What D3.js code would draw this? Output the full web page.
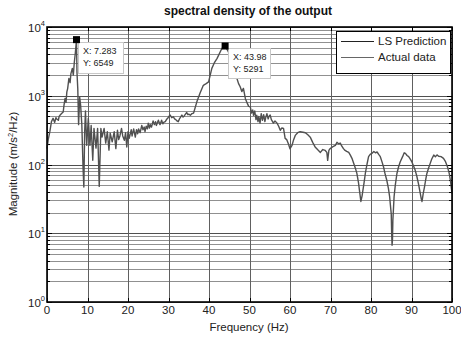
<!DOCTYPE html>
<html><head><meta charset="utf-8">
<script src="https://cdn.jsdelivr.net/npm/d3@7"></script>
<style>body{margin:0;background:#fff}svg{display:block}text{font-family:"Liberation Sans",Arial,sans-serif}</style>
</head><body>
<script>
const title = "spectral density of the output";
const xLabel = "Frequency (Hz)";
const xTicks = [0,10,20,30,40,50,60,70,80,90,100];
const yDecades = [0,1,2,3,4];
const seriesNames = ["LS Prediction","Actual data"];
const freq = [0,0.3,0.7,1.1,1.5,1.9,2.2,2.4,2.8,3.0,3.2,3.6,4.0,4.2,4.45,4.7,4.9,5.1,5.4,5.7,5.9,6.25,6.5,6.75,7.0,7.283,7.4,7.6,7.8,8.07,8.3,8.6,8.9,9.1,9.3,9.5,9.8,10.2,10.6,10.9,11.3,11.6,12.1,12.5,12.9,
13.3,13.6,14.1,14.5,14.9,15.3,15.6,16.1,16.6,17.0,17.4,17.7,18.0,18.4,18.7,19.1,19.4,19.7,20.0,20.3,20.5,20.8,21.0,21.4,21.8,22.1,22.4,22.6,23.0,23.4,23.7,24.0,24.2,24.5,24.8,25.0,25.3,25.5,25.8,26.2,26.5,26.8,27.0,27.3,27.5,27.9,28.3,28.6,28.8,29.2,29.5,29.8,30.1,30.4,30.8,31.2,31.5,31.8,32.1,32.4,32.7,32.9,33.3,33.6,33.8,34.1,34.5,34.8,35.0,35.4,35.8,36.2,
37.0,37.8,38.6,39.3,39.9,40.7,41.3,42.0,43.2,43.98,44.8,45.6,46.2,46.9,47.3,47.7,48.1,48.5,49.0,49.3,49.8,
50.2,50.5,50.8,51.0,51.3,51.6,51.8,52.1,52.3,52.6,52.9,53.2,53.5,53.8,54.0,54.3,54.6,54.8,55.1,55.4,55.7,55.9,56.3,56.8,57.2,57.6,58.0,58.4,58.8,59.2,59.6,60.0,60.5,60.9,61.3,61.9,62.5,63.2,63.8,64.4,65.0,65.6,66.2,66.8,67.5,68.1,68.7,69.1,69.3,69.6,69.9,70.5,71.2,71.6,72.0,72.4,72.8,73.2,73.6,74.0,74.5,74.9,75.3,75.7,76.1,76.5,76.9,77.2,77.5,77.8,78.0,78.3,78.6,79.0,79.4,79.8,80.2,80.7,81.1,81.5,81.9,82.3,82.7,83.1,83.5,83.9,84.3,84.6,84.9,85.0,85.1,85.2,85.3,85.4,85.7,86.0,86.4,86.8,87.2,87.8,88.2,88.5,88.9,89.3,89.7,90.1,90.5,90.9,91.3,91.7,92.1,92.4,92.6,92.9,93.2,93.5,93.8,94.2,94.6,95.0,95.5,95.9,96.3,96.7,97.3,97.9,98.4,98.9,99.3,99.6,100];
const magnitude = [170,230,300,420,470,410,480,460,440,500,520,550,580,730,910,800,1140,1270,1780,1550,2100,2500,2000,3100,4200,6549,2200,1270,380,950,730,380,90,47,300,600,190,470,190,370,115,335,173,335,48,
335,250,335,205,300,162,285,214,300,170,315,230,260,335,260,225,290,180,300,240,270,320,260,330,250,320,280,330,290,370,320,350,300,360,330,400,340,380,350,430,380,420,370,410,440,380,440,390,410,420,450,470,500,525,480,495,460,450,430,420,460,480,525,490,500,530,570,530,540,520,550,560,
815,1100,1420,1500,1590,2500,3000,3500,4900,5291,4350,2800,2300,1780,1500,1350,1150,1280,900,815,700,
690,560,620,520,600,450,520,420,500,400,550,440,530,420,480,550,460,500,525,450,420,400,430,400,360,315,340,335,240,230,200,170,190,230,265,290,300,295,290,270,250,210,180,165,150,165,160,150,115,160,170,180,190,210,200,205,185,170,160,155,150,137,123,105,90,75,55,40,29,35,42,55,74,100,130,140,145,155,148,152,140,130,110,92,72,59,45,34,22,19,10,6.7,8,15.5,34,50,74,92,109,130,148,145,135,130,120,109,95,83,68,53,40,32,29,38,47,60,74,88,103,120,137,130,138,132,130,123,110,92,75,59,38];
const tipX = [7.283, 43.98];
const tipY = [6549, 5291];
const tipLabelX = ["X: 7.283","X: 43.98"];
const tipLabelY = ["Y: 6549","Y: 5291"];

const W=461,H=341;
const L=47,R=452,T=27,B=302;
const svg=d3.select("body").append("svg").attr("width",W).attr("height",H);
const x=d3.scaleLinear().domain([0,100]).range([L,R]);
const y=d3.scaleLog().domain([1,10000]).range([B,T]);

// grid
const g=svg.append("g");
const minors=[];
yDecades.slice(0,-1).forEach(d=>{for(let k=2;k<=9;k++)minors.push(k*Math.pow(10,d));});
g.selectAll(".mn").data(minors).enter().append("line")
 .attr("x1",L).attr("x2",R).attr("y1",d=>Math.round(y(d))+0.5).attr("y2",d=>Math.round(y(d))+0.5)
 .attr("stroke","#909090").attr("stroke-width",1);
g.selectAll(".mj").data(yDecades.map(d=>Math.pow(10,d))).enter().append("line")
 .attr("x1",L).attr("x2",R).attr("y1",d=>Math.round(y(d))+0.5).attr("y2",d=>Math.round(y(d))+0.5)
 .attr("stroke","#505050").attr("stroke-width",1);
g.selectAll(".vx").data(xTicks).enter().append("line")
 .attr("x1",d=>Math.round(x(d))+0.5).attr("x2",d=>Math.round(x(d))+0.5).attr("y1",T).attr("y2",B)
 .attr("stroke","#606060").attr("stroke-width",1);

// ticks
const tk=svg.append("g").attr("stroke","#000").attr("stroke-width",1);
xTicks.forEach(t=>{
  tk.append("line").attr("x1",Math.round(x(t))+0.5).attr("x2",Math.round(x(t))+0.5).attr("y1",B).attr("y2",B-4);
  tk.append("line").attr("x1",Math.round(x(t))+0.5).attr("x2",Math.round(x(t))+0.5).attr("y1",T).attr("y2",T+4);
});
minors.concat(yDecades.map(d=>Math.pow(10,d))).forEach(v=>{
  const len = yDecades.some(d=>Math.pow(10,d)===v)?5:3;
  tk.append("line").attr("x1",L).attr("x2",L+len).attr("y1",Math.round(y(v))+0.5).attr("y2",Math.round(y(v))+0.5);
  tk.append("line").attr("x1",R).attr("x2",R-len).attr("y1",Math.round(y(v))+0.5).attr("y2",Math.round(y(v))+0.5);
});

// curve
const pts=freq.map((f,i)=>[f,magnitude[i]]);
svg.append("path").datum(pts)
 .attr("d",d3.line().x(d=>x(d[0])).y(d=>y(d[1])))
 .attr("fill","none").attr("stroke","#505050").attr("stroke-width",1.4).attr("stroke-linejoin","round");

// axes box
svg.append("rect").attr("x",L).attr("y",T).attr("width",R-L).attr("height",B-T)
 .attr("fill","none").attr("stroke","#000").attr("stroke-width",1.6);

// tick labels
svg.selectAll(".xl").data(xTicks).enter().append("text")
 .attr("x",d=>x(d)).attr("y",314).attr("text-anchor","middle").attr("font-size",11.5).attr("fill","#222").text(d=>d);
yDecades.forEach(d=>{
  const t=svg.append("text").attr("x",28).attr("y",y(Math.pow(10,d))+5).attr("font-size",11.5).attr("fill","#222");
  t.append("tspan").text("10");
  t.append("tspan").attr("dy",-6).attr("font-size",7.5).text(d);
});

// labels
svg.append("text").attr("x",248).attr("y",15).attr("text-anchor","middle").attr("font-size",12)
 .attr("font-weight","bold").attr("fill","#111").text(title);
svg.append("text").attr("x",249).attr("y",331).attr("text-anchor","middle").attr("font-size",11.5).attr("fill","#222").text(xLabel);
const yl=svg.append("text").attr("transform","translate(17,164) rotate(-90)").attr("text-anchor","middle").attr("font-size",11.5).attr("fill","#222");
yl.append("tspan").text("Magnitude (m/s");
yl.append("tspan").attr("dy",-4).attr("font-size",7.5).text("2");
yl.append("tspan").attr("dy",4).text("/Hz)");

// data tips
const boxes=[{x:78,y:42,w:45,h:31},{x:228,y:48,w:42,h:30}];
tipX.forEach((fx,i)=>{
  const b=boxes[i];
  svg.append("rect").attr("x",b.x+1).attr("y",b.y+1).attr("width",b.w).attr("height",b.h).attr("fill","#ddd");
  svg.append("rect").attr("x",b.x+0.5).attr("y",b.y+0.5).attr("width",b.w).attr("height",b.h)
   .attr("fill","#fff").attr("stroke","#c8c8c8");
  svg.append("text").attr("x",b.x+5).attr("y",b.y+12).attr("font-size",9).attr("fill","#222").text(tipLabelX[i]);
  svg.append("text").attr("x",b.x+5).attr("y",b.y+24).attr("font-size",9).attr("fill","#222").text(tipLabelY[i]);
  svg.append("rect").attr("x",x(fx)-3.5).attr("y",y(tipY[i])-3.5).attr("width",7).attr("height",7).attr("fill","#000");
});

// legend
const lg=svg.append("g");
lg.append("rect").attr("x",336.5).attr("y",31.5).attr("width",114).attr("height",42)
 .attr("fill","#fff").attr("stroke","#000").attr("stroke-width",1);
const lcol=["#222","#666"];
seriesNames.forEach((n,i)=>{
  const yy=41+i*16;
  lg.append("line").attr("x1",341).attr("x2",374).attr("y1",yy+0.5).attr("y2",yy+0.5).attr("stroke",lcol[i]).attr("stroke-width",1);
  lg.append("text").attr("x",378).attr("y",yy+4).attr("font-size",11.5).attr("fill","#222").text(n);
});
</script>
</body></html>
